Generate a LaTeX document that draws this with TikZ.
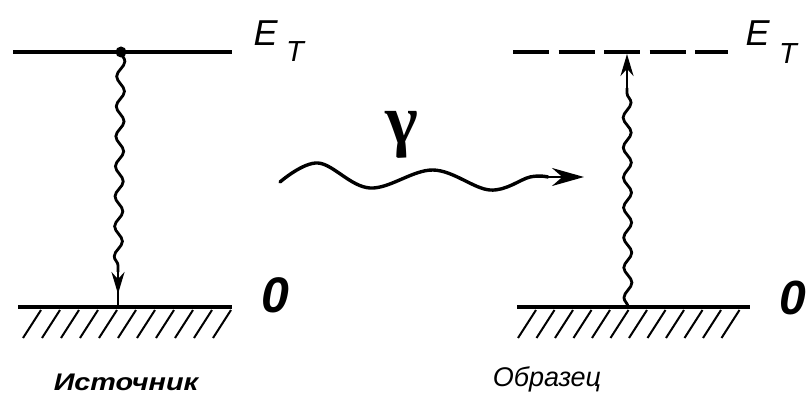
\documentclass[tikz,border=0pt]{standalone}
\usepackage{fontspec}
\setmainfont{Liberation Sans}
\newfontfamily\greekfont{Liberation Serif}
\usetikzlibrary{arrows.meta,decorations.pathmorphing}

\tikzset{
  energyline/.style={line width=3.2pt},
  hatchline/.style={line width=2pt},
  photon/.style={line width=2.8pt, decorate,
    decoration={snake, segment length=30pt, amplitude=4pt}},
  tip/.style={line width=2.6pt, -{Stealth[length=22pt,width=13pt]}},
}

\begin{document}
\begin{tikzpicture}[x=1pt,y=-1pt]
\useasboundingbox (0,0) rectangle (809,396);

% source: levels
\coordinate (srcTopW) at (13,52);
\coordinate (srcTopE) at (232,52);
\coordinate (srcBotW) at (18,307);
\coordinate (srcBotE) at (232,307);
\draw[energyline] (srcTopW) -- (srcTopE);
\draw[energyline] (srcBotW) -- (srcBotE);
\foreach \x in {23,42,...,214}
  \draw[hatchline] (\x,338) -- (\x+18,310);
\fill (121,52) circle (5.5pt) coordinate (srcDot);

% source: emission
\coordinate (srcKink) at (118,272);
\coordinate (srcGnd) at (118,307);
\coordinate (srcTip) at (118,294);
\draw[photon] (srcDot) -- (srcKink);
\draw[line width=2.6pt] (srcKink) -- (srcGnd);
\draw[tip] (srcKink) -- (srcTip);

\node[font=\fontsize{36}{36}\selectfont\itshape, anchor=base west] (srcE) at (250,46) {E};
\node[font=\fontsize{29}{29}\selectfont\itshape, anchor=base west, inner sep=0pt] (srcT) at (286,62) {T};
\node[font=\fontsize{50}{50}\selectfont\bfseries\itshape, anchor=base west, inner sep=0pt] (srcZero) at (261,312) {0};
\node[font=\fontsize{24}{24}\selectfont\bfseries\itshape, xscale=1.2, anchor=base] (srcName) at (126,390) {Источник};

% gamma quantum
\coordinate (gamStart) at (280,182);
\coordinate (gamEnd) at (548,177);
\coordinate (gamTip) at (584,177);
\draw[line width=3.4pt, line cap=round] plot[smooth, tension=0.6] coordinates
  {(gamStart) (318,163) (370,188) (433,170) (490,190) (530,177) (gamEnd)};
\draw[line width=2.6pt, -{Stealth[length=32pt,width=18pt]}] (gamEnd) -- (gamTip);
\node[font=\fontsize{70}{70}\selectfont\greekfont\bfseries, anchor=base] (quantum) at (402,143) {γ};

% absorber: levels
\coordinate (absTopW) at (513,52);
\coordinate (absTopE) at (728,52);
\coordinate (absBotW) at (517,307);
\coordinate (absBotE) at (750,307);
\draw[energyline, dash pattern=on 36pt off 9.5pt] (absTopW) -- (absTopE);
\draw[energyline] (absBotW) -- (absBotE);
\foreach \x in {518,536.5,...,730}
  \draw[hatchline] (\x,338) -- (\x+18,310);

% absorber: excitation
\coordinate (absGnd) at (628,307);
\coordinate (absKink) at (627,88);
\coordinate (absTip) at (627,54);
\draw[photon] (absGnd) -- (absKink);
\draw[tip] (absKink) -- (absTip);

\node[font=\fontsize{36}{36}\selectfont\itshape, anchor=base west] (absE) at (742,46) {E};
\node[font=\fontsize{29}{29}\selectfont\itshape, anchor=base west, inner sep=0pt] (absT) at (779,64) {T};
\node[font=\fontsize{48}{48}\selectfont\bfseries\itshape, anchor=base west, inner sep=0pt] (absZero) at (779,314) {0};
\node[font=\fontsize{27}{27}\selectfont\itshape, anchor=base] (absName) at (547,386) {Образец};
\end{tikzpicture}
\end{document}
